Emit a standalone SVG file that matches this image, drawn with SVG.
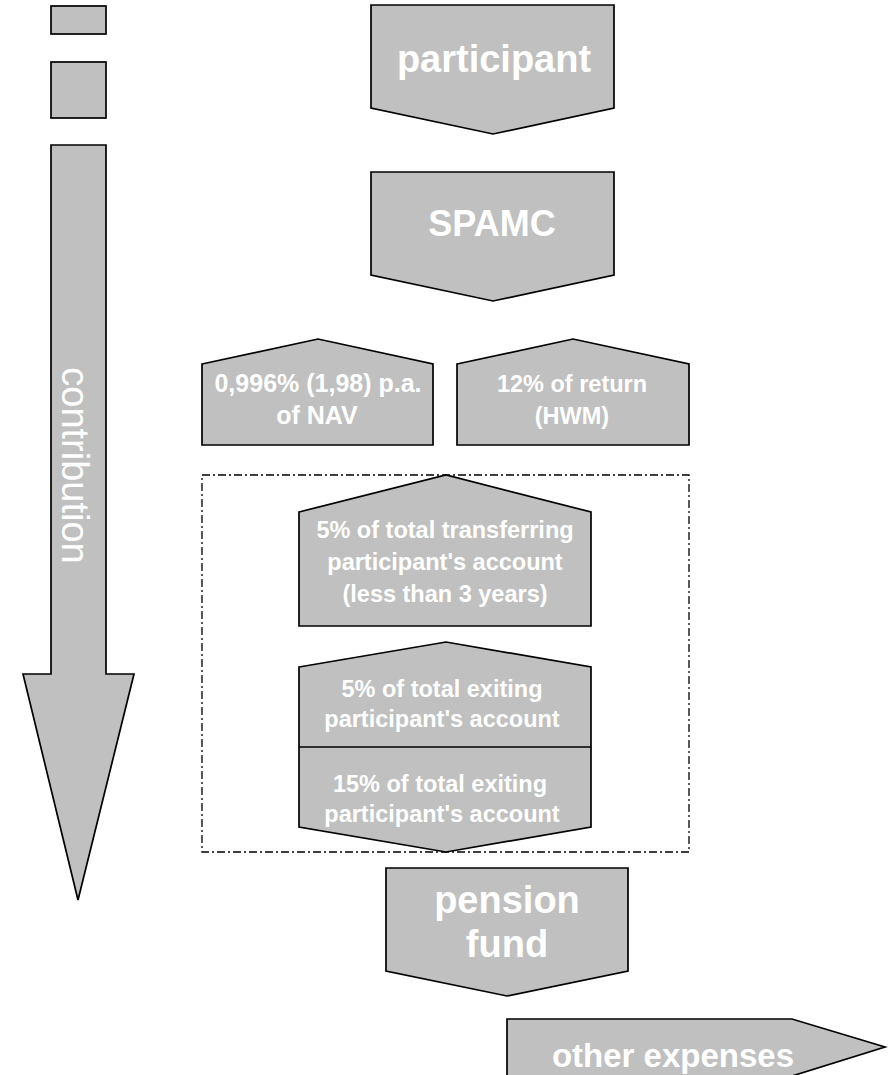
<svg xmlns="http://www.w3.org/2000/svg" width="889" height="1075" viewBox="0 0 889 1075">
<style>
.sh{fill:#c0c0c0;stroke:#000;stroke-width:1.7;stroke-linejoin:miter}
.t{font-family:"Liberation Sans",Arial,sans-serif;font-weight:bold;fill:#fff;text-anchor:middle}
.big{font-size:38px}
.sm{font-size:23.5px}
</style>
<rect width="889" height="1075" fill="#fff"/>
<g id="legend1"><rect class="sh" x="51" y="6" width="55" height="28"/></g>
<g id="legend2"><rect class="sh" x="51" y="62" width="55" height="56"/></g>
<g id="contribution">
<polygon class="sh" points="51,145 106,145 106,674 134,674 78,900 23,674 51,674"/>
<text transform="translate(62,465.5) rotate(90)" style="font-family:'Liberation Sans',Arial,sans-serif;font-size:38px;fill:#fff;text-anchor:middle">contribution</text>
</g>
<g id="participant">
<polygon class="sh" points="371,5 614,5 614,108 493,134 371,108"/>
<text class="t big" x="494" y="72">participant</text>
</g>
<g id="spamc">
<polygon class="sh" points="371,172 614,172 614,275 493,301 371,275"/>
<text class="t" style="font-size:36px" x="492" y="236">SPAMC</text>
</g>
<g id="fee-nav">
<polygon class="sh" points="202,364 318,339 433,364 433,445 202,445"/>
<text class="t" style="font-size:25px" x="318" y="392">0,996% (1,98) p.a.</text>
<text class="t" style="font-size:25px" x="317" y="424">of NAV</text>
</g>
<g id="fee-return">
<polygon class="sh" points="457,364 573,339 689,364 689,445 457,445"/>
<text class="t" style="font-size:23.5px" x="572" y="392">12% of return</text>
<text class="t" style="font-size:23.5px" x="572" y="424">(HWM)</text>
</g>
<g id="connectors">
<rect x="202" y="475" width="487" height="377" fill="none" stroke="#000" stroke-width="1.3" stroke-dasharray="8,3,2,3"/>
</g>
<g id="transfer">
<polygon class="sh" points="299,512 446,475 591,512 591,626 299,626"/>
<text class="t sm" x="445" y="538">5% of total transferring</text>
<text class="t sm" x="445" y="570">participant's account</text>
<text class="t sm" x="445" y="602">(less than 3 years)</text>
</g>
<g id="exit">
<polygon class="sh" points="299,667 446,642 591,667 591,827 446,852 299,827"/>
<line x1="299" y1="747" x2="591" y2="747" stroke="#000" stroke-width="1.7"/>
<text class="t sm" x="442" y="697">5% of total exiting</text>
<text class="t sm" x="442" y="727">participant's account</text>
<text class="t sm" x="440" y="792">15% of total exiting</text>
<text class="t sm" x="442" y="822">participant's account</text>
</g>
<g id="pension-fund">
<polygon class="sh" points="386,868 628,868 628,971 507,996 386,971"/>
<text class="t big" x="507" y="913">pension</text>
<text class="t big" x="507" y="957">fund</text>
</g>
<g id="other-expenses">
<polygon class="sh" points="507,1019 792,1019 885,1047 792,1076 507,1076"/>
<text class="t" style="font-size:33px" x="673" y="1067">other expenses</text>
</g>
</svg>
